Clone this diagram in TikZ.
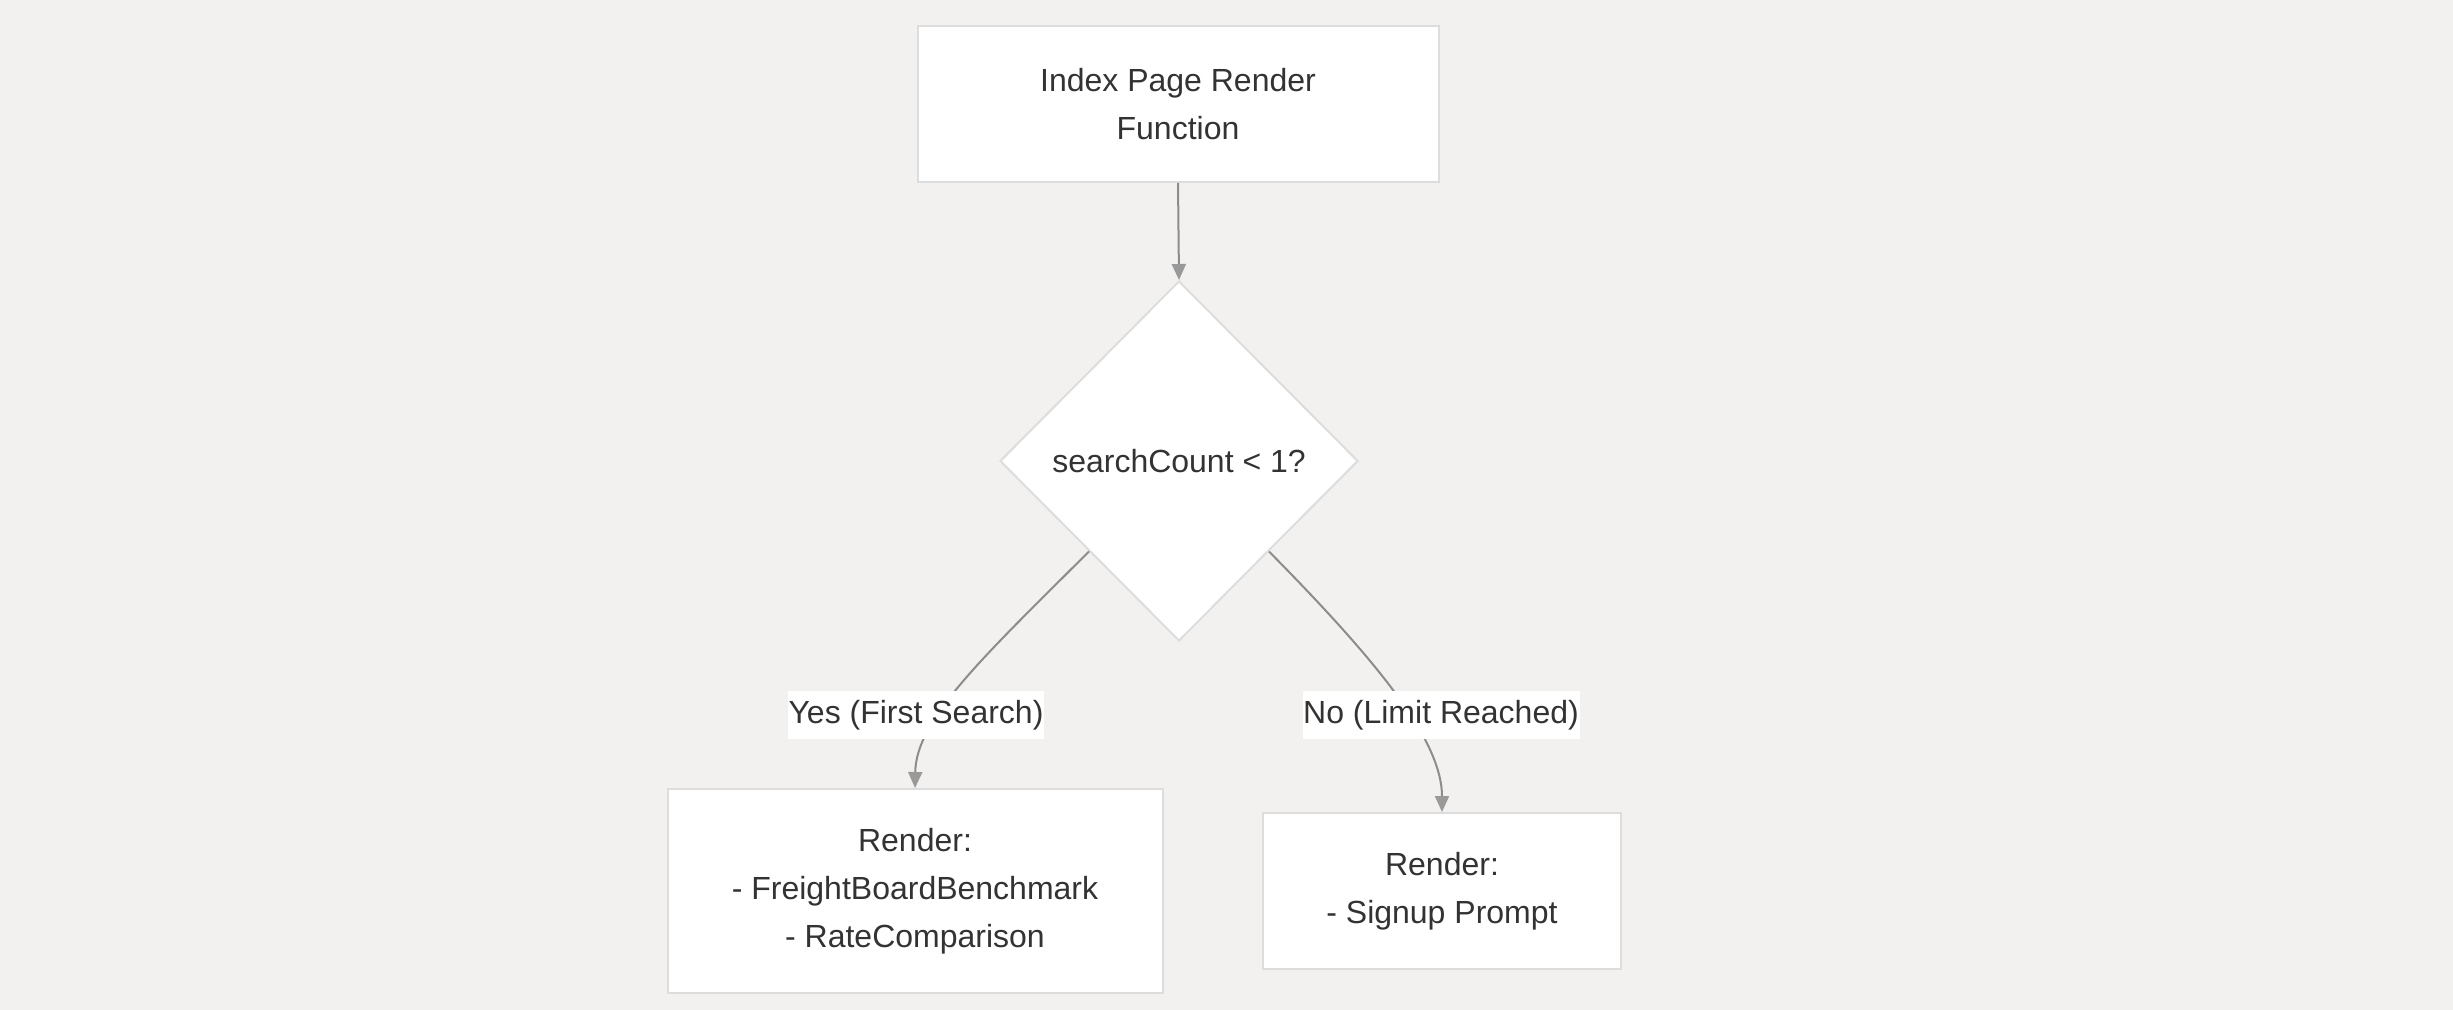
\documentclass[tikz,border=0pt]{standalone}
\usepackage{fontspec}
\setmainfont{Liberation Sans}
\usetikzlibrary{shapes.geometric,arrows.meta}

\definecolor{bgcol}{HTML}{F2F1EF}
\definecolor{linecol}{HTML}{DDDDDD}
\definecolor{edgecol}{HTML}{8C8C8C}
\definecolor{tipcol}{HTML}{999999}
\definecolor{txtcol}{HTML}{333333}

\begin{document}
\begin{tikzpicture}[x=0.5pt, y=-0.5pt,
        every node/.style={font=\fontsize{16}{24}\selectfont, text=txtcol, align=center},
        stepbox/.style={draw=linecol, line width=1pt, fill=white, inner sep=0pt},
        decide/.style={diamond, aspect=1, draw=linecol, line width=1pt, fill=white, inner sep=0pt,
            minimum width=179pt, minimum height=180pt},
        edgelabel/.style={fill=white, inner sep=0pt, minimum height=24pt, minimum width=#1},
        flow/.style={draw=edgecol, line width=1pt, -{Triangle[width=7pt, length=8pt, color=tipcol]}}]
        % background and page size
        \fill[bgcol] (0, 0) rectangle (2453, 1010);
        \useasboundingbox (0, 0) rectangle (2453, 1010);

        \node[stepbox, minimum width=260.5pt, minimum height=78pt] (render) at (1178, 104) {Index Page Render\\Function};
        \node[decide] (count) at (1179, 461) {searchCount < 1?};
        \node[stepbox, minimum width=247.5pt, minimum height=102pt] (bench) at (915, 891) {Render:\\- FreightBoardBenchmark\\- RateComparison};
        \node[stepbox, minimum width=179pt, minimum height=78pt] (signup) at (1442, 891) {Render:\\- Signup Prompt};

        \draw[flow] (render.south) -- (count.north);
        \draw[flow] (count.south west) .. controls (980, 660) and (916, 720) .. (bench.north);
        \draw[flow] (count.south east) .. controls (1376, 660) and (1442, 740) .. (signup.north);

        \node[edgelabel=128pt] (yes) at (916, 715) {Yes (First Search)};
        \node[edgelabel=138.5pt] (no) at (1441, 715) {No (Limit Reached)};
\end{tikzpicture}
\end{document}
